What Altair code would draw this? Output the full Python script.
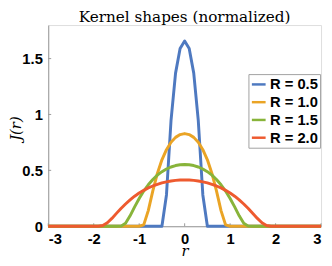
import altair as alt
import pandas as pd

# ---- data ----
labels = ["R = 0.5", "R = 1.0", "R = 1.5", "R = 2.0"]
colors = ["#4E79C0", "#EAA425", "#88B43A", "#EE5A2F"]

r_05 = [-3.0, -0.5, -0.4, -0.3, -0.2, -0.1, 0.0, 0.1, 0.2, 0.3, 0.4, 0.5, 3.0]
j_05 = [0.0, 0.0, 0.280, 0.944, 1.370, 1.590, 1.657, 1.590, 1.370, 0.944, 0.280, 0.0, 0.0]

r_10 = [-3.0, -1.0, -0.9, -0.8, -0.7, -0.6, -0.5, -0.4, -0.3, -0.2, -0.1, 0.0,
        0.1, 0.2, 0.3, 0.4, 0.5, 0.6, 0.7, 0.8, 0.9, 1.0, 3.0]
j_10 = [0.0, 0.0, 0.012, 0.140, 0.317, 0.472, 0.594, 0.685, 0.751, 0.795, 0.820, 0.829,
        0.820, 0.795, 0.751, 0.685, 0.594, 0.472, 0.317, 0.140, 0.012, 0.0, 0.0]

r_15 = [-3.0, -1.5, -1.4, -1.3, -1.2, -1.1, -1.0, -0.9, -0.8, -0.7, -0.6, -0.5, -0.4,
        -0.3, -0.2, -0.1, 0.0, 0.1, 0.2, 0.3, 0.4, 0.5, 0.6, 0.7, 0.8, 0.9, 1.0, 1.1,
        1.2, 1.3, 1.4, 1.5, 3.0]
j_15 = [0.0, 0.0, 0.001, 0.027, 0.093, 0.173, 0.248, 0.315, 0.371, 0.418, 0.457, 0.488,
        0.512, 0.530, 0.543, 0.550, 0.552, 0.550, 0.543, 0.530, 0.512, 0.488, 0.457,
        0.418, 0.371, 0.315, 0.248, 0.173, 0.093, 0.027, 0.001, 0.0, 0.0]

r_20 = [-3.0, -2.0, -1.9, -1.8, -1.7, -1.6, -1.5, -1.4, -1.3, -1.2, -1.1, -1.0, -0.9,
        -0.8, -0.7, -0.6, -0.5, -0.4, -0.3, -0.2, -0.1, 0.0, 0.1, 0.2, 0.3, 0.4, 0.5,
        0.6, 0.7, 0.8, 0.9, 1.0, 1.1, 1.2, 1.3, 1.4, 1.5, 1.6, 1.7, 1.8, 1.9, 2.0, 3.0]
j_20 = [0.0, 0.0, 0.0, 0.006, 0.031, 0.070, 0.115, 0.159, 0.199, 0.236, 0.269, 0.297,
        0.321, 0.343, 0.360, 0.375, 0.388, 0.397, 0.405, 0.410, 0.413, 0.414, 0.413,
        0.410, 0.405, 0.397, 0.388, 0.375, 0.360, 0.343, 0.321, 0.297, 0.269, 0.236,
        0.199, 0.159, 0.115, 0.070, 0.031, 0.006, 0.0, 0.0, 0.0]

x_ticks = [-3, -2, -1, 0, 1, 2, 3]
y_ticks = [0, 0.5, 1, 1.5]

# ---- build table ----
rows = []
for lab, rs, js in zip(labels, [r_05, r_10, r_15, r_20], [j_05, j_10, j_15, j_20]):
    for i, (r, j) in enumerate(zip(rs, js)):
        rows.append({"r": r, "J": j, "kernel": lab, "order": i})
df = pd.DataFrame(rows)
xt = pd.DataFrame({"v": x_ticks})
yt = pd.DataFrame({"v": y_ticks})

W, H = 278, 205
GRAY = "#9a9a9a"
xscale = alt.Scale(domain=[-3, 3], nice=False, zero=False)
yscale = alt.Scale(domain=[0, 1.8], nice=False)

label_kw = dict(labelFont="Liberation Sans", labelFontWeight="bold", labelFontSize=15,
                labelColor="black", domainColor=GRAY, ticks=False, grid=False,
                labelExpr="'' + datum.value")

lines = alt.Chart(df).mark_line(strokeWidth=3, strokeJoin="round").encode(
    x=alt.X("r:Q", scale=xscale,
            axis=alt.Axis(values=x_ticks, labelPadding=6, title="r",
                          titleFont="DejaVu Serif", titleFontStyle="italic",
                          titleFontWeight="normal", titleFontSize=15,
                          titleColor="black", titleBaseline="alphabetic",
                          titleY=30, **label_kw)),
    y=alt.Y("J:Q", scale=yscale,
            axis=alt.Axis(values=y_ticks, labelPadding=6, title="J(r)",
                          titleFont="DejaVu Serif", titleFontStyle="italic",
                          titleFontWeight="normal", titleFontSize=15,
                          titleColor="black", titleAngle=-90,
                          titleBaseline="middle", titleAlign="center",
                          titleX=-33, titleY=105, **label_kw)),
    color=alt.Color("kernel:N",
                    scale=alt.Scale(domain=labels, range=colors),
                    legend=alt.Legend(
                        title=None, orient="none", legendX=204, legendY=50,
                        symbolType="stroke", symbolSize=196, symbolStrokeWidth=2.5,
                        labelFont="Liberation Sans", labelFontWeight="bold",
                        labelFontSize=15, labelColor="black", labelOffset=3,
                        rowPadding=1.1, padding=2, strokeColor="#a0a0a0",
                        fillColor="white")),
    order="order:Q",
)

yticks = alt.Chart(yt).mark_rule(color=GRAY, strokeWidth=1).encode(
    y=alt.Y("v:Q", scale=yscale), x=alt.value(0), x2=alt.value(3))
xticks = alt.Chart(xt).mark_rule(color=GRAY, strokeWidth=1).encode(
    x=alt.X("v:Q", scale=xscale), y=alt.value(H), y2=alt.value(H - 3))

chart = alt.layer(yticks, xticks, lines).properties(
    width=W, height=H,
    title=alt.TitleParams("Kernel shapes (normalized)", font="DejaVu Serif",
                          fontSize=15.5, fontWeight="normal", color="black",
                          anchor="middle", baseline="alphabetic", offset=-12),
    autosize=alt.AutoSizeParams(type="none"),
    padding={"left": 41, "top": 15, "right": 3, "bottom": 30},
).configure_view(stroke=None).configure(background="white")

chart.save("out.html", embed_options={"renderer": "svg", "actions": False})
